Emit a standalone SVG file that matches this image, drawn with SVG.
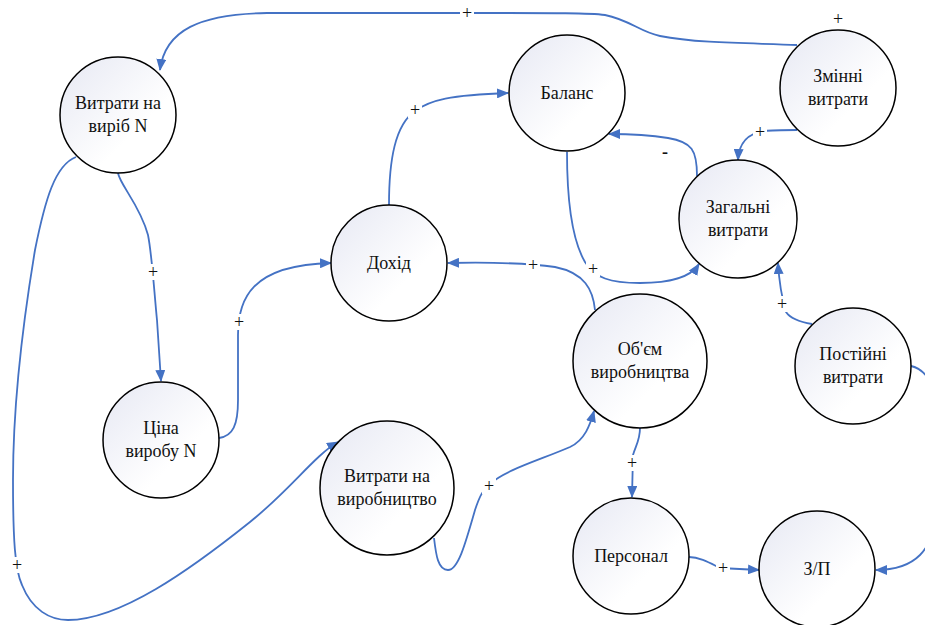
<svg xmlns="http://www.w3.org/2000/svg" width="925" height="625" viewBox="0 0 925 625">
<defs>
<linearGradient id="g" x1="0" y1="0" x2="1" y2="1">
<stop offset="0" stop-color="#e6e8f3"/>
<stop offset="0.65" stop-color="#ffffff"/>
</linearGradient>
<marker id="a" viewBox="0 0 12 10" markerWidth="12" markerHeight="10" refX="11" refY="5" orient="auto" markerUnits="userSpaceOnUse">
<path d="M0,0 L12,5 L0,10 z" fill="#4472c4"/>
</marker>
<style>
.n{fill:url(#g);stroke:#000;stroke-width:1.5}
.c{fill:none;stroke:#4472c4;stroke-width:1.8}
.ar{marker-end:url(#a)}
</style>
</defs>
<rect width="925" height="625" fill="#fff"/>
<g id="connectors">
<path class="c ar" d="M797,45 C760,43 700,44 660,36 C640,32 630,20 605,15 C590,13 560,13 470,13 L267,13 C200,14 165,30 160,70"/>
<path class="c ar" d="M118,173 C120,185 140,205 148,235 C152,255 154,290 157,320 L161,381"/>
<path class="c ar" d="M76,157 C55,165 45,200 35,250 C25,310 13,400 13,480 C13,540 15,570 22,585 C32,610 50,620 68,620 C120,620 190,570 250,522 C290,490 315,455 338,442"/>
<path class="c ar" d="M219,438 C233,436 238,425 238,400 L238,335 C238,300 250,265 331,263"/>
<path class="c ar" d="M389,205 C389,160 395,125 415,111 C430,100 450,95 508,93"/>
<path class="c ar" d="M595,310 C593,290 585,273 555,267 C535,264 500,262 448,263"/>
<path class="c ar" d="M567,152 C567,200 572,240 585,262 C595,278 610,283 640,283 C670,283 690,278 699,264"/>
<path class="c ar" d="M697,176 C697,150 692,142 668,138 C650,135 630,134 609,134"/>
<path class="c ar" d="M797,130 C785,130 772,130 765,131 C748,133 739,142 738,160"/>
<path class="c ar" d="M812,324 C800,322 790,318 786,312 C781,295 779,280 778,263"/>
<path class="c ar" d="M434,538 C436,555 438,570 448,570 C458,570 465,545 475,510 C480,495 483,490 490,484 C505,470 540,460 570,447 C585,440 590,425 594,411"/>
<path class="c ar" d="M640,428 C640,440 636,445 633,455 L632,497"/>
<path class="c ar" d="M689,557 C700,557 710,563 720,568 L759,570"/>
<path class="c ar" d="M911,366 C930,370 945,400 945,450 C945,500 935,540 920,555 C910,565 895,570 876,570"/>
</g>
<g font-family="Times New Roman, Liberation Serif, Tinos, DejaVu Serif, serif" font-size="18" fill="#111" text-anchor="middle">
<g id="labels">
<rect x="460" y="5" width="14" height="16" fill="#fff"/><text x="467" y="19">+</text>
<rect x="831" y="11" width="14" height="16" fill="#fff"/><text x="838" y="25">+</text>
<rect x="146" y="264" width="14" height="16" fill="#fff"/><text x="153" y="278">+</text>
<rect x="10" y="557" width="14" height="16" fill="#fff"/><text x="17" y="571">+</text>
<rect x="232" y="314" width="14" height="16" fill="#fff"/><text x="239" y="328">+</text>
<rect x="408" y="102" width="14" height="16" fill="#fff"/><text x="415" y="116">+</text>
<rect x="526" y="257" width="14" height="16" fill="#fff"/><text x="533" y="271">+</text>
<rect x="586" y="261" width="14" height="16" fill="#fff"/><text x="593" y="275">+</text>
<text x="665" y="158" font-weight="bold">-</text>
<rect x="753" y="124" width="14" height="16" fill="#fff"/><text x="760" y="138">+</text>
<rect x="775" y="296" width="14" height="16" fill="#fff"/><text x="782" y="310">+</text>
<rect x="482" y="478" width="14" height="16" fill="#fff"/><text x="489" y="492">+</text>
<rect x="625" y="455" width="14" height="16" fill="#fff"/><text x="632" y="469">+</text>
<rect x="716" y="560" width="14" height="16" fill="#fff"/><text x="723" y="574">+</text>
</g>
<g id="n_vytraty_vyrib"><circle class="n" cx="118" cy="115" r="58"/><text x="118" y="109">Витрати на</text><text x="118" y="132">виріб N</text></g>
<g id="n_dokhid"><circle class="n" cx="389" cy="263" r="58"/><text x="389" y="269">Дохід</text></g>
<g id="n_balans"><circle class="n" cx="567" cy="93" r="58"/><text x="567" y="99">Баланс</text></g>
<g id="n_zminni"><circle class="n" cx="838" cy="88" r="58"/><text x="838" y="82">Змінні</text><text x="838" y="105">витрати</text></g>
<g id="n_zahalni"><circle class="n" cx="738" cy="219" r="59"/><text x="738" y="213">Загальні</text><text x="738" y="236">витрати</text></g>
<g id="n_tsina"><circle class="n" cx="161" cy="440" r="58"/><text x="161" y="434">Ціна</text><text x="161" y="457">виробу N</text></g>
<g id="n_vytraty_vyrobnytstvo"><circle class="n" cx="387" cy="488" r="67"/><text x="387" y="482">Витрати на</text><text x="387" y="505">виробництво</text></g>
<g id="n_obsyag"><circle class="n" cx="640" cy="361" r="67"/><text x="640" y="355">Об'єм</text><text x="640" y="378">виробництва</text></g>
<g id="n_postiini"><circle class="n" cx="853" cy="366" r="58"/><text x="853" y="360">Постійні</text><text x="853" y="383">витрати</text></g>
<g id="n_personal"><circle class="n" cx="631" cy="556" r="58"/><text x="631" y="562">Персонал</text></g>
<g id="n_zp"><circle class="n" cx="817" cy="569" r="58"/><text x="817" y="575">З/П</text></g>
</g>
</svg>
